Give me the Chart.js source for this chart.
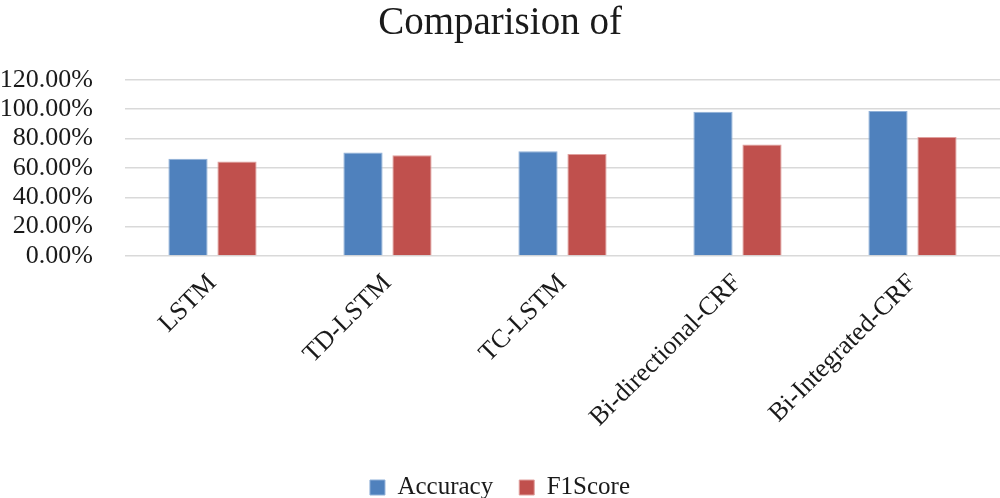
<!DOCTYPE html>
<html>
<head>
<meta charset="utf-8">
<script src="https://cdn.jsdelivr.net/npm/chart.js@4.4.1/dist/chart.umd.min.js"></script>
<style>
html,body{margin:0;padding:0;background:#fff;}
#wrap{width:1000px;height:498px;position:relative;}
</style>
</head>
<body>
<div id="wrap"><canvas id="c"></canvas></div>
<script>
const categories = ["LSTM", "TD-LSTM", "TC-LSTM", "Bi-directional-CRF", "Bi-Integrated-CRF"];
const accuracy = [66.2, 70.5, 71.4, 98.3, 98.8];
const f1score = [64.4, 68.7, 69.4, 75.9, 81.1];
const seriesNames = ["Accuracy", "F1Score"];
const titleText = "Comparision of";

const serif = "'Liberation Serif', 'Times New Roman', serif";
new Chart(document.getElementById('c'), {
  type: 'bar',
  data: {
    labels: categories,
    datasets: [
      {label: seriesNames[0], data: accuracy, backgroundColor: '#4F81BD', borderColor: '#8fb0d8', borderWidth: 1, categoryPercentage: 0.56, barPercentage: 0.8},
      {label: seriesNames[1], data: f1score, backgroundColor: '#C0504D', borderColor: '#e0a09e', borderWidth: 1, categoryPercentage: 0.56, barPercentage: 0.8}
    ]
  },
  options: {
    responsive: true,
    maintainAspectRatio: false,
    animation: false,
    layout: {padding: {left: 0, right: 0, top: 0, bottom: -12}},
    plugins: {
      title: {display: true, text: titleText, color: '#1a1a1a', font: {family: serif, size: 39, weight: 'normal'}, padding: {top: 0, bottom: 33}},
      legend: {position: 'bottom', labels: {color: '#1a1a1a', font: {family: serif, size: 25}, boxWidth: 15, boxHeight: 15, padding: 26}},
      tooltip: {enabled: false}
    },
    scales: {
      y: {
        min: 0, max: 120,
        ticks: {stepSize: 20, autoSkip: false, color: '#1a1a1a', font: {family: serif, size: 26, lineHeight: 1}, padding: 32, callback: v => v.toFixed(2) + '%'},
        grid: {color: '#d9d9d9', lineWidth: 1.5, drawTicks: false},
        border: {display: false},
        afterFit: s => { s.width = 125; }
      },
      x: {
        ticks: {color: '#1a1a1a', autoSkip: false, font: {family: serif, size: 26}, minRotation: 45, maxRotation: 45, padding: 4},
        grid: {display: false},
        border: {display: false},
        afterFit: s => { s.height = 193; }
      }
    }
  }
});
</script>
</body>
</html>
